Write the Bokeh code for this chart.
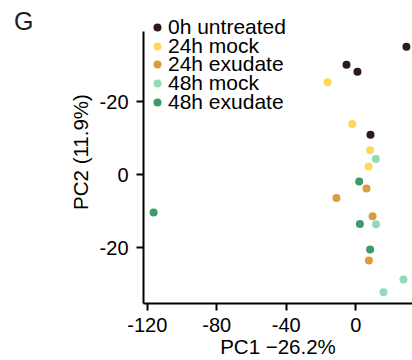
from bokeh.plotting import figure
from bokeh.models import Legend, LegendItem, Range1d, FixedTicker, LinearAxis
from bokeh.embed import file_html
from bokeh.resources import INLINE

groups = ["0h untreated", "24h mock", "24h exudate", "48h mock", "48h exudate"]
colors = ["#2b1b1d", "#fdd85c", "#dd9a3e", "#8fdcb5", "#3e9b69"]

pc1_0h = [29.2, -5.3, 1.0, 8.5]
pc2_0h = [35.0, 30.1, 28.2, 10.9]
pc1_24m = [-16.2, -2.0, 8.3, 7.4]
pc2_24m = [25.3, 13.9, 6.7, 2.2]
pc1_24e = [6.2, -11.1, 9.7, 7.6]
pc2_24e = [-3.8, -6.4, -11.4, -23.5]
pc1_48m = [11.6, 11.7, 27.5, 16.0]
pc2_48m = [4.3, -13.6, -28.7, -32.2]
pc1_48e = [2.0, -116.4, 2.4, 8.3]
pc2_48e = [-1.9, -10.4, -13.5, -20.5]

xs = [pc1_0h, pc1_24m, pc1_24e, pc1_48m, pc1_48e]
ys = [pc2_0h, pc2_24m, pc2_24e, pc2_48m, pc2_48e]

x_ticks = [-120, -80, -40, 0]
y_ticks = [-20, 0, 20]
y_tick_labels = {-20: "-20", 0: "0", 20: "-20"}
x_tick_labels = {-120: "-120", -80: "-80", -40: "-40", 0: "0"}
panel_label = "G"

FONT = "Liberation Sans"

# layout constants
W, H = 412, 360
LEFT, BOTTOM = 143, 57
X_START, X_END = -122.2, 32.7
Y_START, Y_AXIS_TOP, Y_END = -35.3, 39.2, 47.7
G_TICK = 42

p = figure(width=W, height=H, output_backend="svg", toolbar_location=None,
           x_range=Range1d(X_START, X_END), y_range=Range1d(Y_START, Y_END),
           min_border_left=LEFT, min_border_right=0, min_border_top=0, min_border_bottom=BOTTOM)
p.outline_line_color = None
p.xgrid.visible = False
p.ygrid.visible = False
p.background_fill_color = "white"

renderers = []
for c, x, y in zip(colors, xs, ys):
    renderers.append(p.scatter(x, y, size=8, fill_color=c, line_color=None))

for ax in (p.xaxis[0], p.yaxis[0]):
    ax.axis_line_width = 2
    ax.axis_line_color = "black"
    ax.major_tick_line_width = 2
    ax.major_tick_line_color = "black"
    ax.major_tick_out = 7
    ax.major_tick_in = 0
    ax.minor_tick_line_color = None
    ax.major_label_text_font = FONT
    ax.major_label_text_font_size = "20px"
    ax.major_label_text_color = "black"
    ax.axis_label_text_font = FONT
    ax.axis_label_text_font_size = "20.5px"
    ax.axis_label_text_font_style = "normal"
    ax.axis_label_text_color = "black"

p.xaxis.ticker = FixedTicker(ticks=x_ticks)
p.xaxis.major_label_overrides = x_tick_labels
p.yaxis.ticker = FixedTicker(ticks=y_ticks)
p.yaxis.major_label_overrides = y_tick_labels
p.yaxis.bounds = (Y_START, Y_AXIS_TOP)
p.xaxis.axis_label = "PC1 \u221226.2%"
p.yaxis.axis_label = "PC2 (11.9%)"
p.xaxis.major_label_standoff = 7
p.xaxis.axis_label_standoff = 0
p.yaxis.major_label_standoff = 8
p.yaxis.axis_label_standoff = 5

# panel letter as an outer, line-less axis label
g_axis = LinearAxis(ticker=FixedTicker(ticks=[G_TICK]),
                    major_label_overrides={G_TICK: panel_label},
                    axis_line_color=None, major_tick_line_color=None,
                    minor_tick_line_color=None, major_label_standoff=26,
                    major_label_text_font=FONT, major_label_text_font_size="25px",
                    major_label_text_color="#1e1e1e")
p.add_layout(g_axis, "left")

# legend rows (one legend per row for exact spacing)
ROW_H = 23
mids = [27.3, 46.0, 64.7, 83.4, 102.1]
frame_bottom = H - BOTTOM
for g, r, m in zip(groups, renderers, mids):
    lg = Legend(items=[LegendItem(label=g, renderers=[r])],
                location=(4, frame_bottom - m - ROW_H / 2), padding=0, margin=0,
                glyph_width=20, glyph_height=20, label_height=20, label_standoff=1,
                label_text_font=FONT, label_text_font_size="21px",
                label_text_color="black",
                border_line_color=None, background_fill_alpha=0)
    p.add_layout(lg)

open("out.html", "w").write(file_html(p, INLINE))
